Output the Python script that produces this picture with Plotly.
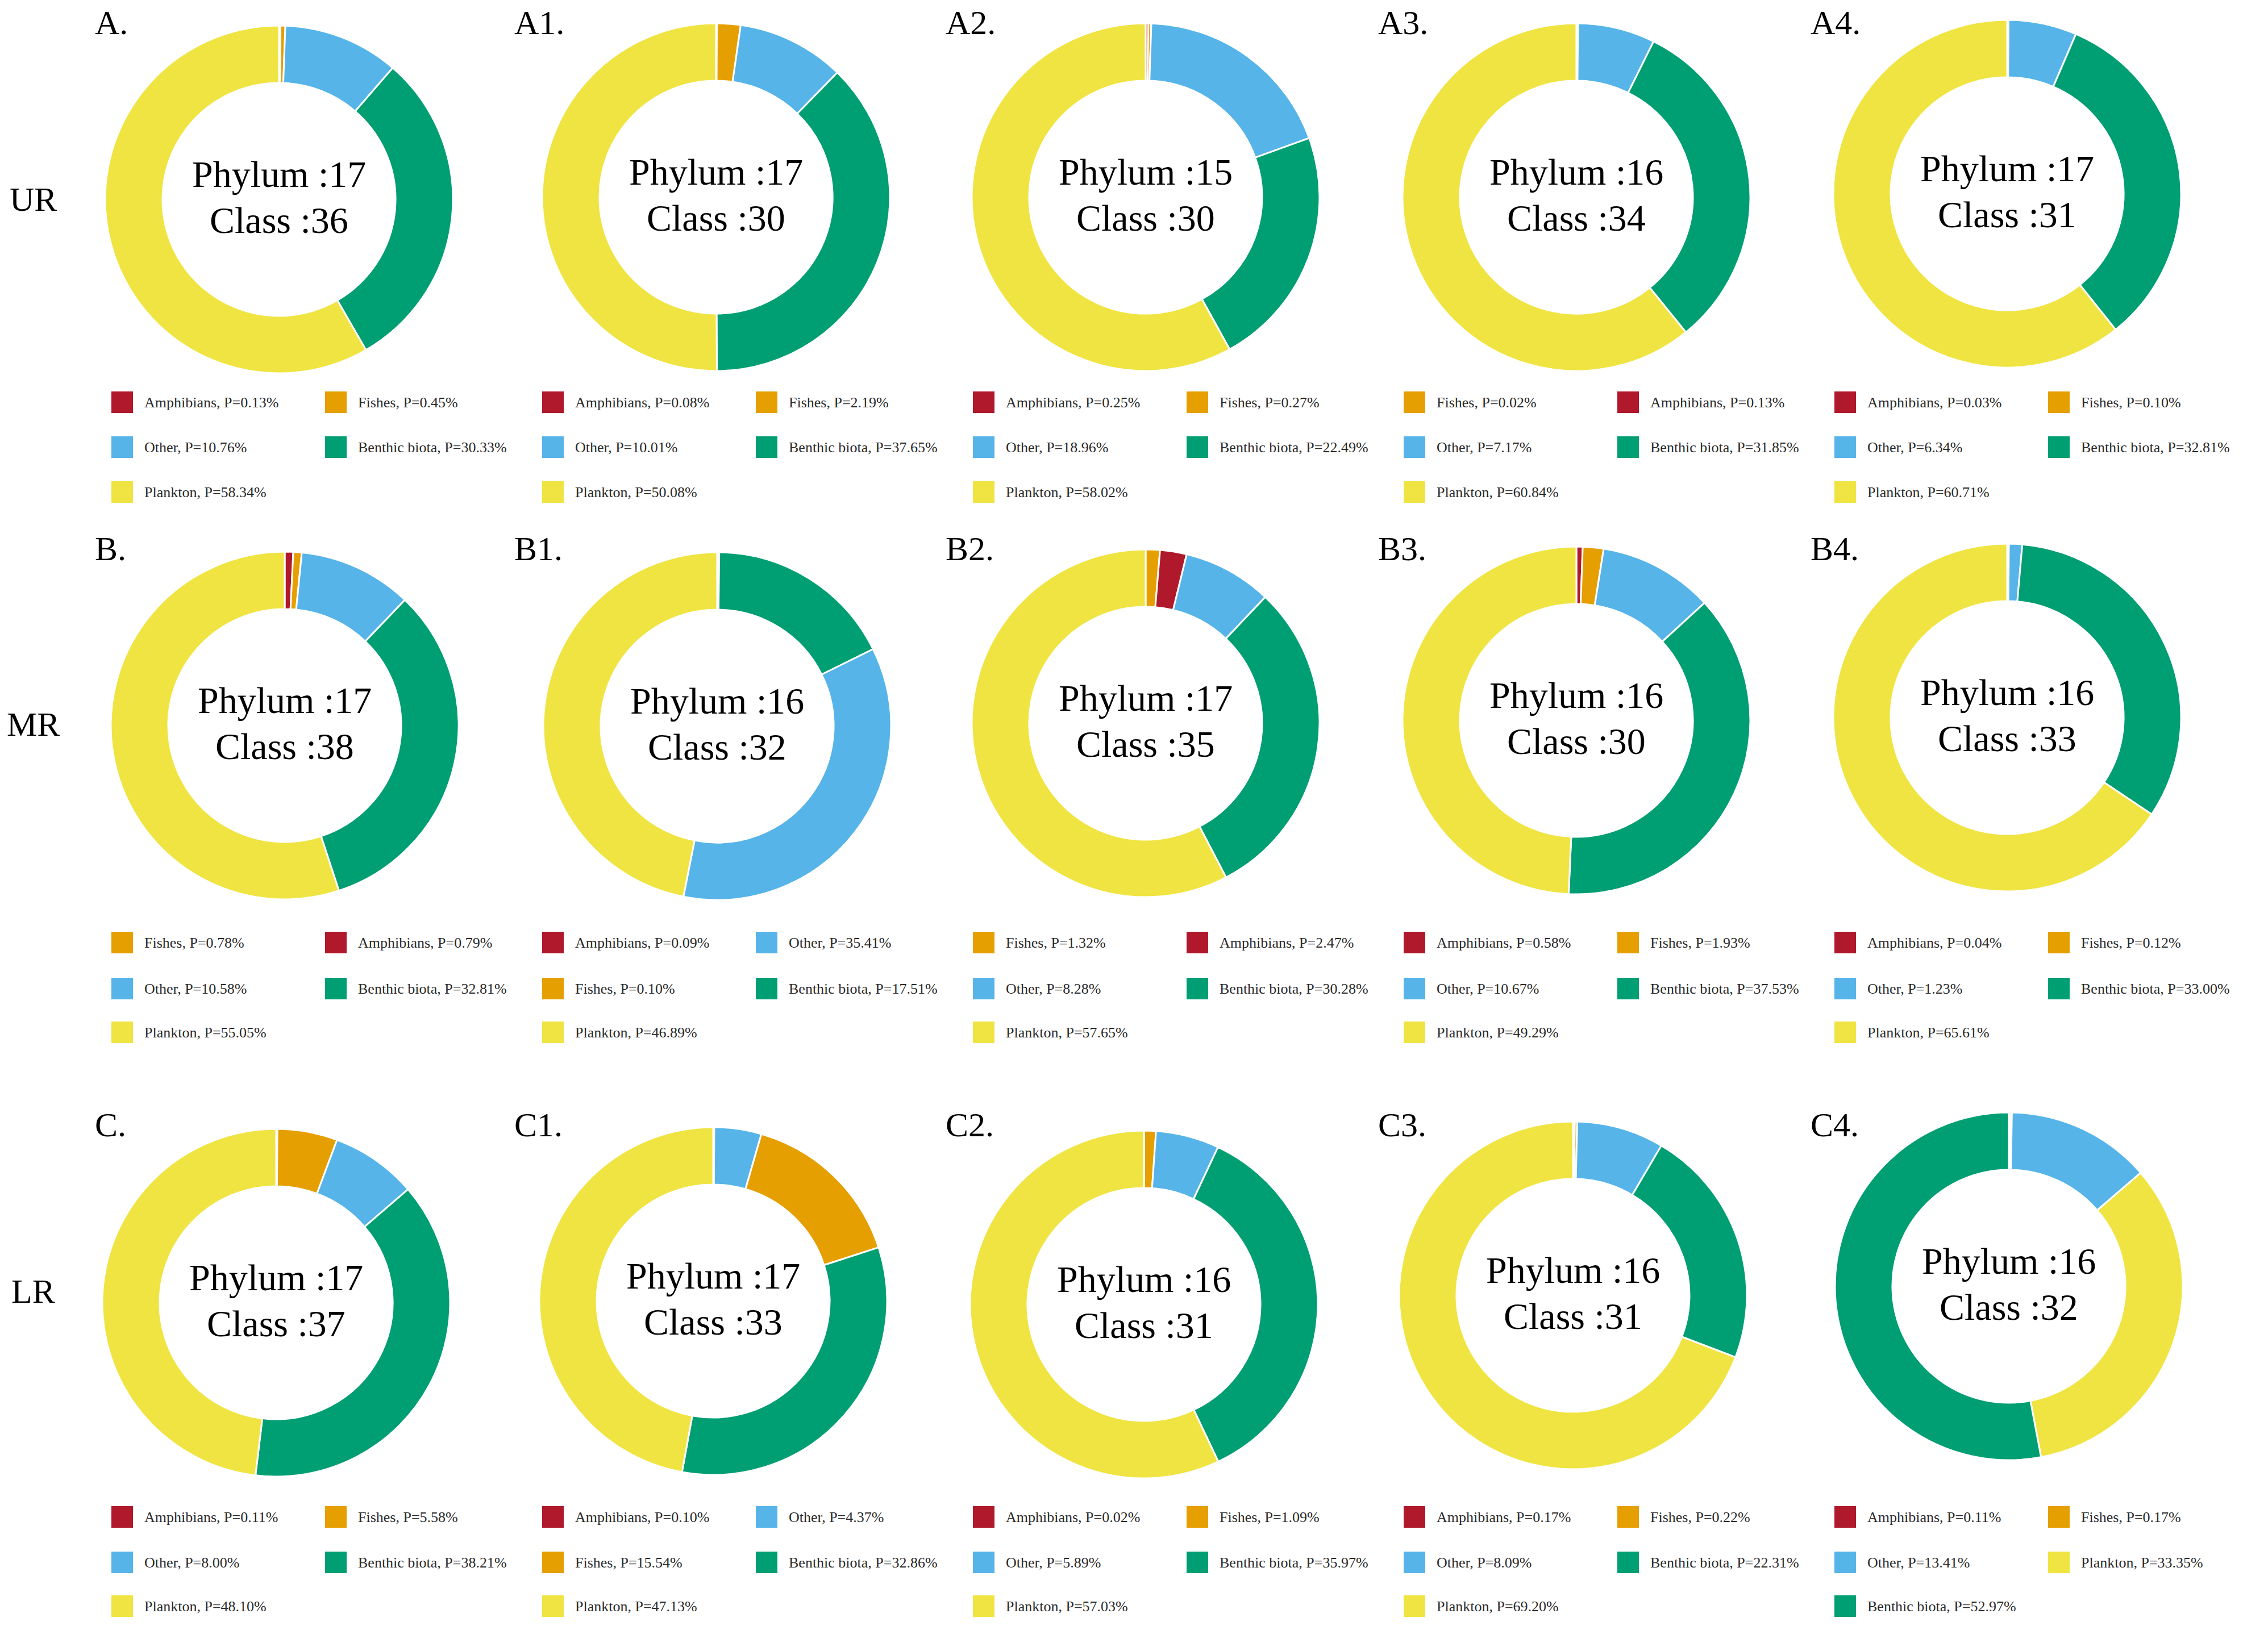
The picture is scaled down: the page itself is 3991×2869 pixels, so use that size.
import plotly.graph_objects as go

# -------------------------------
# Data (percentages)
# -------------------------------
panel_labels = ["A.", "A1.", "A2.", "A3.", "A4.",
                "B.", "B1.", "B2.", "B3.", "B4.",
                "C.", "C1.", "C2.", "C3.", "C4."]
row_labels = ["UR", "MR", "LR"]

phylum = [17, 17, 15, 16, 17, 17, 16, 17, 16, 16, 17, 17, 16, 16, 16]
class_counts = [36, 30, 30, 34, 31, 38, 32, 35, 30, 33, 37, 33, 31, 31, 32]

amphibians = [0.13, 0.08, 0.25, 0.13, 0.03, 0.79, 0.09, 2.47, 0.58, 0.04, 0.11, 0.10, 0.02, 0.17, 0.11]
fishes = [0.45, 2.19, 0.27, 0.02, 0.10, 0.78, 0.10, 1.32, 1.93, 0.12, 5.58, 15.54, 1.09, 0.22, 0.17]
other = [10.76, 10.01, 18.96, 7.17, 6.34, 10.58, 35.41, 8.28, 10.67, 1.23, 8.00, 4.37, 5.89, 8.09, 13.41]
benthic = [30.33, 37.65, 22.49, 31.85, 32.81, 32.81, 17.51, 30.28, 37.53, 33.00, 38.21, 32.86, 35.97, 22.31, 52.97]
plankton = [58.34, 50.08, 58.02, 60.84, 60.71, 55.05, 46.89, 57.65, 49.29, 65.61, 48.10, 47.13, 57.03, 69.20, 33.35]

# order of the legend entries (row-major, 2 columns) and of the slices (clockwise from 12 o'clock)
legend_order = [
    "AFOBP", "AFOBP", "AFOBP", "FAOBP", "AFOBP",
    "FAOBP", "AOFBP", "FAOBP", "AFOBP", "AFOBP",
    "AFOBP", "AOFBP", "AFOBP", "AFOBP", "AFOPB",
]
slice_order = [
    "AFOBP", "AFOBP", "AFOBP", "FAOBP", "AFOBP",
    "AFOBP", "AFBOP", "FAOBP", "AFOBP", "AFOBP",
    "AFOBP", "AOFBP", "AFOBP", "AFOBP", "AFOPB",
]

# -------------------------------
# Style / layout (positions in page pixels)
# -------------------------------
W, H = 3991, 2869
OFF = 8  # default body margin of the html page
FW, FH = W - 2 * OFF, H - 2 * OFF
FONT = "Liberation Serif"
names = {"A": "Amphibians", "F": "Fishes", "O": "Other", "B": "Benthic biota", "P": "Plankton"}
colors = {"A": "#B0182C", "F": "#E69F00", "O": "#56B4E9", "B": "#009E73", "P": "#F0E442"}
series = {"A": amphibians, "F": fishes, "O": other, "B": benthic, "P": plankton}

# donut centres
centres = [
    (491, 351), (1260, 347), (2016, 347), (2774, 347), (3532, 341),
    (501, 1277), (1262, 1278), (2016, 1273), (2774, 1268), (3532, 1263),
    (486, 2293), (1255, 2290), (2013, 2296), (2768, 2280), (3535, 2264),
]
R = 306
label_x = [165, 903, 1662, 2423, 3184]
label_y = [40, 966, 1980]
row_label_y = [351, 1275, 2273]
legend_x0 = [196, 954, 1712, 2470, 3228]
legend_dx = 376
legend_rows_y = [[708, 787, 866], [1659, 1740, 1817], [2670, 2750, 2827]]
SW = 38  # legend swatch size

fig = go.Figure()

annotations = []
shapes = []

for i, lab in enumerate(panel_labels):
    r, c = divmod(i, 5)
    cx, cy = centres[i]
    order = slice_order[i]
    fig.add_trace(go.Pie(
        labels=[names[k] for k in order],
        values=[series[k][i] for k in order],
        marker=dict(colors=[colors[k] for k in order], line=dict(color="white", width=3)),
        hole=0.67,
        sort=False,
        direction="clockwise",
        rotation=0,
        textinfo="none",
        showlegend=False,
        domain=dict(x=[(cx - R - OFF) / FW, (cx + R - OFF) / FW],
                    y=[1 - (cy + R - OFF) / FH, 1 - (cy - R - OFF) / FH]),
    ))

    # centre text
    annotations.append(dict(x=cx, y=cy - 45, text=f"Phylum :{phylum[i]}", showarrow=False,
                            xref="x", yref="y", font=dict(family=FONT, size=66, color="black")))
    annotations.append(dict(x=cx, y=cy + 36, text=f"Class :{class_counts[i]}", showarrow=False,
                            xref="x", yref="y", font=dict(family=FONT, size=66, color="black")))

    # panel letter
    annotations.append(dict(x=label_x[c], y=label_y[r], text=lab, showarrow=False, xanchor="left",
                            xref="x", yref="y", font=dict(family=FONT, size=60, color="black")))

    # legend (2 columns, row-major)
    for j, k in enumerate(legend_order[i]):
        lr, lc = divmod(j, 2)
        x0 = legend_x0[c] + lc * legend_dx
        y0 = legend_rows_y[r][lr]
        shapes.append(dict(type="rect", xref="x", yref="y", x0=x0, x1=x0 + SW,
                           y0=y0 - SW / 2, y1=y0 + SW / 2, fillcolor=colors[k], line=dict(width=0)))
        annotations.append(dict(x=x0 + SW + 18, y=y0, text=f"{names[k]}, P={series[k][i]:.2f}%",
                                showarrow=False, xanchor="left", xref="x", yref="y",
                                font=dict(family=FONT, size=26, color="#2a2a2a")))

for r, lab in enumerate(row_labels):
    annotations.append(dict(x=58, y=row_label_y[r], text=lab, showarrow=False,
                            xref="x", yref="y", font=dict(family=FONT, size=60, color="black")))

fig.update_layout(
    width=FW, height=FH,
    margin=dict(l=0, r=0, t=0, b=0),
    paper_bgcolor="white", plot_bgcolor="rgba(0,0,0,0)",
    xaxis=dict(range=[OFF, W - OFF], visible=False, domain=[0, 1], fixedrange=True),
    yaxis=dict(range=[H - OFF, OFF], visible=False, domain=[0, 1], fixedrange=True),
    annotations=annotations,
    shapes=shapes,
)

fig.write_html("out.html")
